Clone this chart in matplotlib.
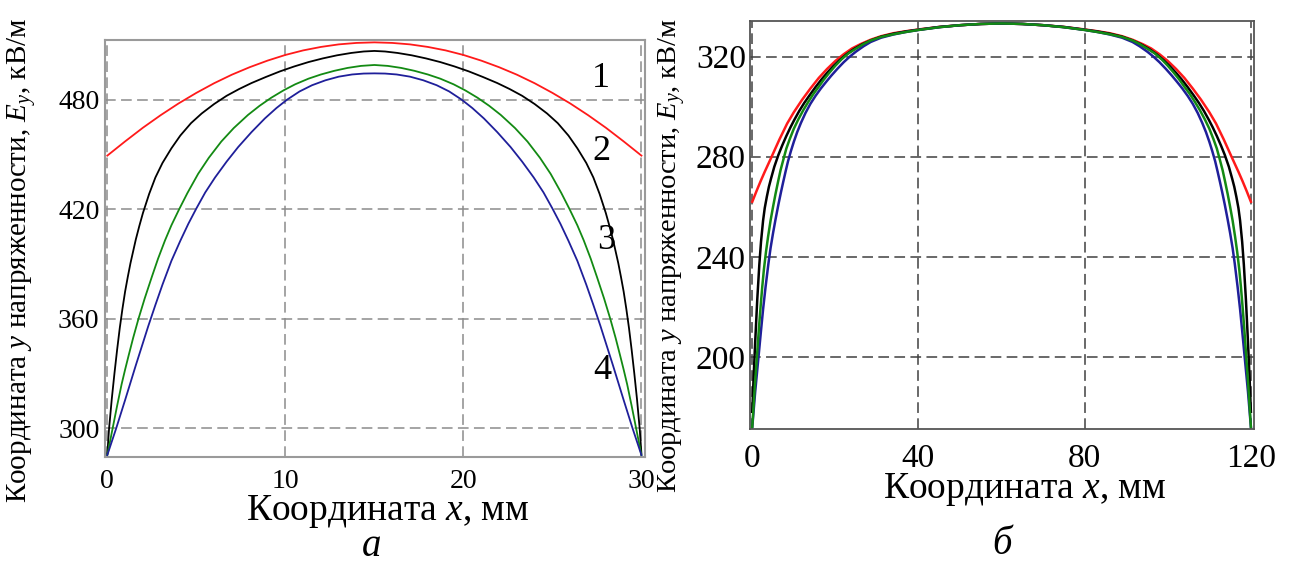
import matplotlib
matplotlib.use("Agg")
import matplotlib.pyplot as plt

plt.rcParams['font.family'] = ['Liberation Serif', 'DejaVu Serif']
plt.rcParams['mathtext.fontset'] = 'custom'
plt.rcParams['mathtext.rm'] = 'Liberation Serif'
plt.rcParams['mathtext.it'] = 'Liberation Serif:italic'

# panel a: half profile, distance from edge (mm) -> E_y (kV/m); curves are symmetric about x = 15
a_d_red = [0, 1, 2, 3, 4, 5, 6, 7, 8, 9, 10, 11, 12, 13, 14, 15]
a_red = [449.5, 457.3, 464.8, 471.7, 478.1, 483.9, 489.2, 493.9, 498.0, 501.6, 504.7, 507.2, 509.1, 510.5, 511.3, 511.6]
a_d_black = [0, 0.1, 0.25, 0.4, 0.55, 0.7, 0.85, 1.0, 1.15, 1.3, 1.45, 1.6, 1.8, 2.0, 2.35, 2.7, 3.1,
             3.6, 4.1, 4.7, 5.3, 6.0, 6.7, 7.4, 8.1, 8.9, 9.7, 10.5, 11.3, 12.1, 12.9, 13.7, 14.4, 15]
a_black = [286, 300, 316, 330, 343, 355, 365.5, 375, 383, 390.5, 397, 403.5, 411, 418, 428.5, 437.5, 445.5,
           453.5, 460.5, 467.3, 472.6, 477.8, 482.3, 486, 489.3, 492.6, 495.7, 498.4, 500.8, 502.8, 504.5, 505.8, 506.6, 506.9]
a_d_green = [0, 0.3, 0.55, 0.8, 1.0, 1.2, 1.45, 1.75, 2.1, 2.5, 2.85, 3.24, 3.6, 4.03, 4.5, 5.1, 5.7,
             6.4, 7.1, 7.9, 8.55, 9.2, 9.9, 10.55, 11.3, 12, 12.75, 13.5, 14.25, 15]
a_green = [285.3, 300, 312.3, 324, 332.2, 340, 349.5, 360, 371.2, 383, 393, 403, 411.3, 420, 429, 439.5, 448.3,
           457.2, 464.6, 471.8, 476.8, 481.2, 485.3, 488.6, 491.7, 494, 496, 497.6, 498.7, 499.2]
a_d_blue = [0, 0.5, 1.0, 1.6, 2.3, 2.7, 3.1, 3.6, 4.1, 4.55, 5.0, 5.5, 6.05, 6.7, 7.35, 8.1, 8.85,
            9.5, 10.1, 10.8, 11.5, 12.25, 13, 13.75, 14.4, 15]
a_blue = [285.3, 300, 315.5, 334.5, 356, 367.6, 378.8, 391.8, 402.8, 412.1, 420.5, 429.3, 437.5, 446.2, 454.2, 462.4, 469.9,
          475.6, 480.2, 484.7, 488.1, 490.8, 492.8, 494.0, 494.5, 494.6]

# panel b: half profile, symmetric about x = 60
b_d_red = [0, 1, 2, 3, 4.6, 6.5, 8.4, 10, 12, 14, 16, 18, 20, 22, 24, 26, 28.5, 31, 34, 37, 40, 45, 50, 55, 60]
b_red = [262, 266.2, 270.2, 274, 279.8, 286.8, 293.3, 297.8, 302.8, 307.3, 311.5, 315.1, 318.3, 321, 323.3, 325,
         326.8, 328.2, 329.4, 330.2, 330.9, 331.9, 332.6, 333.1, 333.3]
b_d_black = [0, 0.3, 0.7, 1.2, 1.7, 2.1, 2.6, 3.0, 3.5, 4.0, 4.5, 5.3, 6.3, 7.2, 8.2, 9.2, 10.1, 11.3, 12.5,
             13.8, 15.2, 16.6, 18, 19.5, 21, 22.7, 24.5, 26.5, 28.5, 31, 34, 37, 40, 45, 50, 55, 60]
b_black = [178, 191, 206, 223, 237, 246, 254.5, 259.5, 264, 268, 271.2, 276, 280.8, 284.5, 288.3, 291.8, 294.7,
           298.3, 301.5, 304.6, 307.8, 310.8, 313.5, 316.2, 318.6, 321, 323.1, 325, 326.5, 328, 329.2, 330.1,
           330.8, 331.9, 332.6, 333.1, 333.3]
b_d_green = [0, 0.6, 1.2, 1.6, 2, 2.4, 2.8, 3.3, 3.8, 4.4, 5, 5.6, 6.2, 6.8, 7.5, 8.2, 9, 10, 11.1, 12.3,
             13.5, 14.7, 16, 17.2, 18.5, 20, 21.5, 23.2, 25, 26.8, 28.5, 31, 34, 37, 40, 45, 50, 55, 60]
b_green = [172, 188, 202, 211.5, 220, 228, 235, 242, 248, 254.5, 260, 265.2, 270, 274.6, 279, 283.3, 287,
           291.2, 295, 298.7, 302, 305.1, 308, 310.8, 313.5, 316.4, 319, 321.4, 323.3, 325.1, 326.5, 327.9,
           329, 329.9, 330.7, 331.8, 332.6, 333.1, 333.3]
b_d_blue = [0, 0.7, 1.5, 2.1, 2.6, 3.2, 3.9, 4.4, 5, 5.6, 6.3, 6.9, 7.4, 8, 8.6, 9.3, 10, 10.8, 11.7, 12.8,
            14, 15.2, 16.5, 17.8, 19, 20.5, 22, 23.5, 25, 26.8, 28.5, 31, 34, 37, 40, 45, 50, 55, 60]
b_blue = [172, 186, 200, 210.5, 219, 228, 237.5, 243.5, 249.5, 255, 261, 265.8, 269.6, 274, 278.2, 282.3,
          286, 289.8, 293.5, 297.5, 301.2, 304.3, 307.3, 310, 312.4, 315.2, 317.8, 320.1, 322.1, 324.2,
          325.9, 327.6, 328.9, 329.9, 330.7, 331.8, 332.6, 333.1, 333.3]

a_xticks = [0, 10, 20, 30]
a_yticks = [300, 360, 420, 480]
b_xticks = [0, 40, 80, 120]
b_yticks = [200, 240, 280, 320]
curve_nums = ['1', '2', '3', '4']

RED = '#ff1a1a'
GREEN = '#138a13'
BLUE = '#1f1f9a'


def mirror(d, v, width):
    xs = list(d) + [width - t for t in reversed(d[:-1])]
    ys = list(v) + list(reversed(v[:-1]))
    return xs, ys


fig = plt.figure(figsize=(12.96, 5.68), dpi=100)

# ---------- panel a ----------
ax1 = fig.add_axes([105 / 1296, 1 - 456.7 / 568, 540 / 1296, 416.7 / 568])
for d, v, c in [(a_d_red, a_red, RED), (a_d_black, a_black, 'black'),
                (a_d_green, a_green, GREEN), (a_d_blue, a_blue, BLUE)]:
    xs, ys = mirror(d, v, 30)
    ax1.plot(xs, ys, color=c, lw=1.3, zorder=3)
ax1.set_xlim(-0.13, 30.2)
ax1.set_ylim(284.4, 512.9)
ax1.set_xticks(a_xticks)
ax1.set_yticks(a_yticks)
ax1.grid(True, color='#8c8c8c', lw=1.1, dashes=(7, 3.5))
ax1.tick_params(length=0, labelsize=20, pad=4)
ax1.tick_params(axis='x', pad=9)
for s in ax1.spines.values():
    s.set_color('#9a9a9a')
    s.set_linewidth(1.5)
for lbl, x, y in zip(curve_nums, [27.7, 27.75, 28.0, 27.8], [492, 451.5, 403.2, 331.9]):
    ax1.text(x, y, lbl, fontsize=26, ha='center', va='center')

# ---------- panel b ----------
ax2 = fig.add_axes([750 / 1296, 1 - 429.3 / 568, 504 / 1296, 408.6 / 568])
for d, v, c in [(b_d_red, b_red, RED), (b_d_black, b_black, 'black'),
                (b_d_blue, b_blue, BLUE), (b_d_green, b_green, GREEN)]:
    xs, ys = mirror(d, v, 120)
    ax2.plot(xs, ys, color=c, lw=1.8, zorder=3)
ax2.set_xlim(-0.55, 120.75)
ax2.set_ylim(171.0, 334.4)
ax2.set_xticks(b_xticks)
ax2.set_yticks(b_yticks)
ax2.grid(True, color='#404040', lw=1.1, dashes=(7, 3.5))
ax2.tick_params(length=0, labelsize=24, pad=3)
ax2.tick_params(axis='x', pad=10)
for s in ax2.spines.values():
    s.set_color('#555555')
    s.set_linewidth(1.3)

# axis titles and captions
ylab = 'Координата $y$ напряженности, $E_y$, кВ/м'
fig.text(22 / 1296, 1 - 260 / 568, ylab, rotation=90, fontsize=21, ha='center', va='center')
fig.text(672 / 1296, 1 - 256 / 568, ylab, rotation=90, fontsize=20.5, ha='center', va='center')
xlab = 'Координата $x$, мм'
fig.text(388 / 1296, 1 - 512 / 568, xlab, fontsize=27, ha='center', va='center')
fig.text(1025 / 1296, 1 - 490 / 568, xlab, fontsize=27, ha='center', va='center')
fig.text(372 / 1296, 1 - 546 / 568, 'а', fontsize=28, style='italic', ha='center', va='center')
fig.text(1002 / 1296, 1 - 544 / 568, 'б', fontsize=28, style='italic', ha='center', va='center')

fig.savefig('out.png', dpi=100)
